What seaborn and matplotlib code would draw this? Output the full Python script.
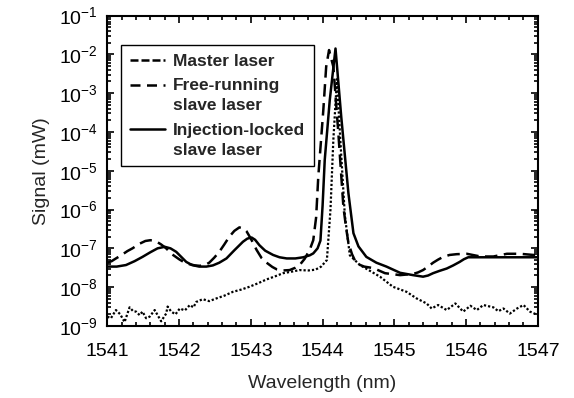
import numpy as np
import pandas as pd
import seaborn as sns
import matplotlib
matplotlib.use("Agg")
import matplotlib.pyplot as plt
from matplotlib.lines import Line2D
from matplotlib.legend_handler import HandlerLine2D
from matplotlib.ticker import LogLocator, MultipleLocator

# ---------------- data (signal given as log10 of mW) ----------------
master_nm = [1541.00, 1541.05, 1541.12, 1541.18, 1541.24, 1541.31, 1541.36, 1541.40,
             1541.45, 1541.49, 1541.54, 1541.59, 1541.66, 1541.71, 1541.75, 1541.82,
             1541.84, 1541.89, 1541.95, 1542.01, 1542.08, 1542.15, 1542.20, 1542.24,
             1542.33, 1542.42, 1542.52, 1542.63, 1542.75, 1542.87, 1542.98, 1543.10,
             1543.22, 1543.34, 1543.45, 1543.57, 1543.68, 1543.80, 1543.90, 1543.98,
             1544.06, 1544.11, 1544.15, 1544.20, 1544.25, 1544.31, 1544.38, 1544.52,
             1544.66, 1544.80, 1544.98, 1545.17, 1545.31, 1545.45, 1545.52, 1545.61,
             1545.73, 1545.85, 1545.96, 1546.06, 1546.15, 1546.24, 1546.38, 1546.45,
             1546.52, 1546.61, 1546.71, 1546.80, 1546.89, 1547.00]
master_log = [-8.76, -8.80, -8.59, -8.70, -8.90, -8.52, -8.62, -8.63,
              -8.72, -8.63, -8.80, -8.76, -8.59, -8.75, -8.88, -8.68,
              -8.50, -8.63, -8.70, -8.55, -8.60, -8.46, -8.52, -8.38,
              -8.31, -8.36, -8.29, -8.22, -8.12, -8.06, -7.99, -7.90,
              -7.80, -7.72, -7.64, -7.60, -7.56, -7.57, -7.55, -7.47,
              -7.30, -6.00, -4.20, -2.64, -4.30, -6.15, -7.18, -7.43,
              -7.58, -7.73, -7.99, -8.12, -8.29, -8.42, -8.55, -8.46,
              -8.59, -8.42, -8.63, -8.48, -8.59, -8.46, -8.52, -8.62,
              -8.55, -8.68, -8.55, -8.46, -8.63, -8.72]

free_nm = [1541.00, 1541.06, 1541.12, 1541.20, 1541.28, 1541.35, 1541.45, 1541.53,
           1541.60, 1541.68, 1541.75, 1541.82, 1541.90, 1542.00, 1542.08, 1542.15,
           1542.22, 1542.29, 1542.36, 1542.42, 1542.49, 1542.56, 1542.63, 1542.70,
           1542.77, 1542.84, 1542.90, 1542.94, 1543.00, 1543.08, 1543.15, 1543.22,
           1543.30, 1543.36, 1543.45, 1543.54, 1543.62, 1543.68, 1543.75, 1543.82,
           1543.87, 1543.91, 1543.94, 1544.01, 1544.05, 1544.09, 1544.15, 1544.22,
           1544.29, 1544.33, 1544.36, 1544.41, 1544.47, 1544.58, 1544.71, 1544.87,
           1545.08, 1545.26, 1545.33, 1545.40, 1545.47, 1545.54, 1545.61, 1545.68,
           1545.77, 1545.87, 1546.01, 1546.20, 1546.38, 1546.57, 1546.75, 1547.00]
free_log = [-7.37, -7.33, -7.26, -7.17, -7.07, -7.00, -6.88, -6.81,
            -6.79, -6.82, -6.90, -7.00, -7.15, -7.28, -7.37, -7.41,
            -7.44, -7.45, -7.43, -7.37, -7.24, -7.09, -6.90, -6.70,
            -6.55, -6.46, -6.49, -6.56, -6.75, -7.04, -7.25, -7.37,
            -7.48, -7.54, -7.57, -7.56, -7.50, -7.43, -7.27, -7.04,
            -6.79, -6.20, -5.15, -3.44, -2.32, -1.89, -2.32, -4.04,
            -5.93, -6.50, -6.86, -7.15, -7.39, -7.47, -7.51, -7.64,
            -7.69, -7.66, -7.62, -7.56, -7.47, -7.37, -7.29, -7.22,
            -7.17, -7.15, -7.14, -7.21, -7.21, -7.14, -7.14, -7.18]

inj_nm = [1541.00, 1541.13, 1541.26, 1541.38, 1541.49, 1541.60, 1541.70, 1541.80,
          1541.88, 1541.96, 1542.03, 1542.10, 1542.18, 1542.28, 1542.38, 1542.47,
          1542.56, 1542.66, 1542.77, 1542.89, 1542.95, 1543.01, 1543.06, 1543.12,
          1543.20, 1543.31, 1543.40, 1543.50, 1543.62, 1543.73, 1543.82, 1543.87,
          1543.93, 1543.97, 1544.00, 1544.03, 1544.10, 1544.18, 1544.26, 1544.36,
          1544.43, 1544.50, 1544.61, 1544.75, 1544.89, 1545.08, 1545.26, 1545.40,
          1545.47, 1545.54, 1545.63, 1545.73, 1545.82, 1545.91, 1545.97, 1546.03,
          1546.29, 1546.66, 1547.00]
inj_log = [-7.47, -7.47, -7.43, -7.33, -7.22, -7.10, -7.00, -6.96,
           -7.00, -7.09, -7.22, -7.35, -7.43, -7.47, -7.47, -7.44,
           -7.37, -7.26, -7.05, -6.83, -6.75, -6.72, -6.78, -6.92,
           -7.06, -7.17, -7.23, -7.26, -7.26, -7.23, -7.18, -7.13,
           -7.00, -6.80, -5.90, -4.72, -3.18, -1.85, -3.61, -5.58,
           -6.61, -6.95, -7.22, -7.37, -7.47, -7.63, -7.69, -7.73,
           -7.70, -7.64, -7.58, -7.52, -7.44, -7.35, -7.28, -7.23,
           -7.23, -7.23, -7.23]

labels = ["Master laser", "Free-running\nslave laser", "Injection-locked\nslave laser"]
x_ticks = [1541, 1542, 1543, 1544, 1545, 1546, 1547]

# ---------------- table ----------------
df = pd.concat([
    pd.DataFrame({"nm": master_nm, "mW": np.power(10.0, master_log), "laser": labels[0]}),
    pd.DataFrame({"nm": free_nm, "mW": np.power(10.0, free_log), "laser": labels[1]}),
    pd.DataFrame({"nm": inj_nm, "mW": np.power(10.0, inj_log), "laser": labels[2]}),
])

sns.set_style("ticks")
plt.rcParams["font.family"] = ["Liberation Sans", "DejaVu Sans"]
plt.rcParams["mathtext.fontset"] = "custom"
plt.rcParams["mathtext.rm"] = "Liberation Sans"
plt.rcParams["mathtext.it"] = "Liberation Sans:italic"
plt.rcParams["mathtext.bf"] = "Liberation Sans:bold"

fig = plt.figure(figsize=(5.74, 3.98), dpi=100)
ax = fig.add_axes([0.187, 0.181, 0.750, 0.780])

dash_map = {labels[0]: (1.0, 0.9), labels[1]: (5.0, 2.6), labels[2]: ""}
sns.lineplot(data=df, x="nm", y="mW", hue="laser", style="laser",
             palette={l: "black" for l in labels}, dashes=dash_map,
             hue_order=labels, style_order=labels, linewidth=1.8,
             legend=False, ax=ax, sort=True, estimator=None)
ax.get_lines()[0].set_linewidth(1.6)
for ln in ax.get_lines():
    ln.set_solid_joinstyle("round")
    ln.set_dash_joinstyle("round")

ax.set_yscale("log")
ax.set_xlim(1541, 1547)
ax.set_ylim(1e-9, 1e-1)
ax.set_xticks(x_ticks)
ax.set_xticklabels([str(t) for t in x_ticks])
ax.xaxis.set_minor_locator(MultipleLocator(0.2))
ax.yaxis.set_major_locator(LogLocator(base=10, numticks=20))
ax.yaxis.set_minor_locator(LogLocator(base=10, subs=np.arange(2, 10), numticks=20))

ax.tick_params(which="both", direction="in", top=True, right=True, colors="black",
               width=1.2)
ax.tick_params(which="major", length=5, labelsize=14)
ax.tick_params(which="minor", length=3)
ax.tick_params(axis="x", which="major", pad=12)
ax.tick_params(axis="y", which="major", pad=7)
for s in ax.spines.values():
    s.set_linewidth(1.5)
    s.set_color("black")

ax.set_xlabel("Wavelength (nm)", fontsize=14, labelpad=11)
ax.set_ylabel("Signal (mW)", fontsize=14, labelpad=6)


class FirstLineHandler(HandlerLine2D):
    def __init__(self, dy=0.0, **kw):
        super().__init__(**kw)
        self.dy = dy

    def create_artists(self, legend, orig_handle, xdescent, ydescent, width,
                       height, fontsize, trans):
        return super().create_artists(legend, orig_handle, xdescent,
                                      ydescent - 2 * self.dy, width, height,
                                      fontsize, trans)


handles = [
    Line2D([], [], color="black", lw=1.8, dashes=(3.2, 1.2)),
    Line2D([], [], color="black", lw=1.8, dashes=(4.0, 2.6)),
    Line2D([], [], color="black", lw=1.8),
]
leg = ax.legend(handles, labels, loc="upper left", bbox_to_anchor=(0.032, 0.905),
                borderaxespad=0, frameon=True, fancybox=False, framealpha=1,
                edgecolor="black", handlelength=2.0, handletextpad=0.5,
                borderpad=0.5, labelspacing=0.55,
                handler_map={handles[1]: FirstLineHandler(dy=8.0),
                             handles[2]: FirstLineHandler(dy=8.0)},
                prop={"weight": "bold", "size": 12.5})
for t in leg.get_texts():
    t.set_linespacing(1.4)
leg.get_frame().set_linewidth(1.0)

fig.savefig("out.png", dpi=100)
